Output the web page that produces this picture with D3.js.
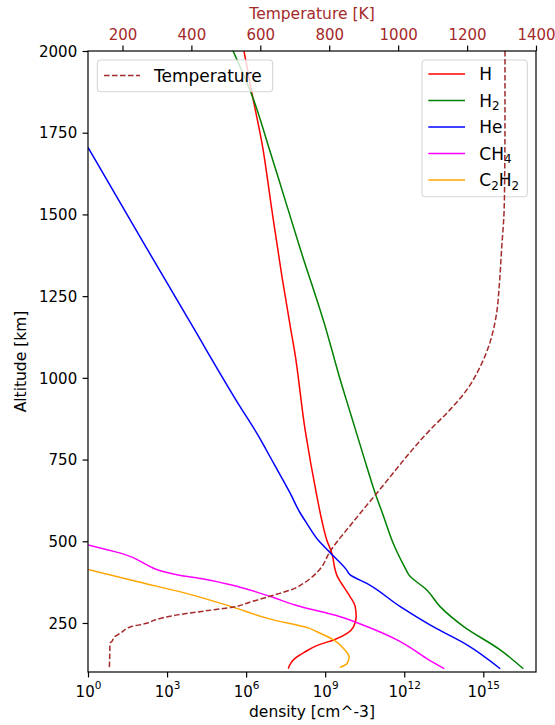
<!DOCTYPE html>
<html>
<head>
<meta charset="utf-8">
<script src="https://cdn.jsdelivr.net/npm/d3@7"></script>
<style>
  body { margin: 0; background: #fff; }
  text { font-family: "DejaVu Sans", sans-serif; }
</style>
</head>
<body>
<svg id="chart" width="555" height="725"></svg>
<script>
// Atmospheric number-density profiles [cm^-3] versus altitude [km]
const altH  = [2000, 1871, 1718, 1513, 1309, 1146, 1085, 840, 636, 565, 504, 463, 412, 397, 361, 330, 300, 269, 239, 218, 198, 183, 160, 140, 120, 110];
const densH = [8.3e5, 1.66e6, 4.0e6, 9.5e6, 2.3e7, 5.0e7, 6.8e7, 1.74e8, 4.9e8, 7.4e8, 1.15e9, 1.8e9, 2.4e9, 2.75e9, 5.0e9, 8.9e9, 1.38e10, 1.5e10, 1.2e10, 6.8e9, 2.1e9, 5.6e8, 1.6e8, 6.8e7, 4.4e7, 4.0e7];

const altH2  = [2000, 1865, 1697, 1615, 1391, 1146, 1085, 1014, 881, 759, 647, 575, 494, 417, 397, 351, 300, 239, 167, 110];
const densH2 = [3.2e5, 1.66e6, 7.8e6, 1.62e7, 1.17e8, 1.1e9, 1.8e9, 3.16e9, 1.0e10, 2.9e10, 7.9e10, 1.66e11, 3.8e11, 1.1e12, 1.5e12, 7.2e12, 2.3e13, 1.8e14, 4.5e15, 3.3e16];

const altHe  = [1705, 1422, 1168, 912, 830, 739, 647, 588, 555, 502, 466, 414, 397, 371, 300, 238, 183, 110];
const densHe = [1, 1.1e2, 7.8e3, 5.9e5, 2.57e6, 1.1e7, 4.7e7, 1.1e8, 2.0e8, 5.6e8, 1.5e9, 6.3e9, 8.9e9, 3.8e10, 7.1e11, 1.29e13, 2.4e14, 4.4e15];

const altCH4  = [489, 463, 397, 384, 361, 330, 305, 269, 239, 193, 141, 110];
const densCH4 = [1, 18.6, 2.63e3, 2.69e4, 5.0e5, 9.1e6, 7.1e7, 3.7e9, 3.8e10, 7.1e11, 7.2e12, 3.3e13];

const altC2H2  = [414, 376, 339, 300, 261, 235, 223, 198, 172, 146, 126, 114];
const densC2H2 = [1, 79, 6.3e3, 2.75e5, 9.1e6, 2.3e8, 4.9e8, 2.1e9, 5.0e9, 8.1e9, 6.8e9, 3.55e9];

// Temperature profile [K]
const altTemp = [2000, 1800, 1600, 1500, 1391, 1290, 1187, 1107, 1034, 963, 902, 840, 647, 560, 468, 412, 371, 356, 336, 315, 298, 287, 274, 259, 249, 239, 218, 208, 193, 188, 150, 110];
const tempK   = [1310, 1310, 1309, 1307, 1300, 1294, 1284, 1266, 1238, 1199, 1150, 1092, 938, 870, 802, 771, 725, 700, 642, 574, 518, 441, 355, 294, 270, 226, 193, 177, 169, 164, 163, 162];

const speciesLabels = ["H", "H_2", "He", "CH_4", "C_2H_2"];
const speciesColors = ["#ff0000", "#008000", "#0000ff", "#ff00ff", "#ffa500"];
const speciesAlt  = [altH, altH2, altHe, altCH4, altC2H2];
const speciesDens = [densH, densH2, densHe, densCH4, densC2H2];

const densityTicks = [1, 1e3, 1e6, 1e9, 1e12, 1e15];
const altitudeTicks = [250, 500, 750, 1000, 1250, 1500, 1750, 2000];
const temperatureTicks = [200, 400, 600, 800, 1000, 1200, 1400];

const tempColor = "#a52a2a";
const tickFont = 15, labelFont = 15.5, legendFont = 17;

const svg = d3.select("#chart");
const L = 88, R = 536, T = 51, B = 672;

const x = d3.scaleLog().domain([1, 1e17]).range([L, R]);
const xT = d3.scaleLinear().domain([100, 1400]).range([L, R]);
const y = d3.scaleLinear().domain([100, 2000]).range([B, T]);

svg.append("defs").append("clipPath").attr("id", "plotArea")
  .append("rect").attr("x", L).attr("y", T).attr("width", R - L).attr("height", B - T);

// draws "H_2" style labels with subscript digits
function richLabel(sel, label, size) {
  const parts = label.split(/(_\d)/).filter(p => p.length);
  let sub = false;
  parts.forEach(p => {
    if (p[0] === "_") {
      sel.append("tspan").attr("dy", size * 0.22).attr("font-size", size * 0.7).text(p.slice(1));
      sub = true;
    } else {
      sel.append("tspan").attr("dy", sub ? -size * 0.22 : 0).text(p);
      sub = false;
    }
  });
}

// species profiles
const plot = svg.append("g").attr("clip-path", "url(#plotArea)");
const line = d3.line().curve(d3.curveMonotoneY).x(d => x(d[1])).y(d => y(d[0]));
speciesLabels.forEach((lab, i) => {
  plot.append("path")
    .datum(d3.zip(speciesAlt[i], speciesDens[i]))
    .attr("d", line)
    .attr("fill", "none")
    .attr("stroke", speciesColors[i])
    .attr("stroke-width", 1.5)
    .attr("stroke-linejoin", "round");
});

// species legend
const lg = svg.append("g");
lg.append("rect").attr("x", 422).attr("y", 60).attr("width", 105.3).attr("height", 136.7)
  .attr("rx", 3.5).attr("fill", "#fff").attr("fill-opacity", 0.8)
  .attr("stroke", "#d6d6d6").attr("stroke-width", 1.1);
speciesLabels.forEach((lab, i) => {
  const cy = 74 + i * 26.5;
  lg.append("line").attr("x1", 428.3).attr("x2", 465).attr("y1", cy).attr("y2", cy)
    .attr("stroke", speciesColors[i]).attr("stroke-width", 1.5);
  const t = lg.append("text").attr("x", 479.3).attr("y", cy + 6.2).attr("font-size", legendFont);
  richLabel(t, lab, legendFont);
});

// temperature profile on the twin axis
const tempLine = d3.line().curve(d3.curveMonotoneY).x(d => xT(d[1])).y(d => y(d[0]));
svg.append("g").attr("clip-path", "url(#plotArea)").append("path")
  .datum(d3.zip(altTemp, tempK))
  .attr("d", tempLine)
  .attr("fill", "none")
  .attr("stroke", tempColor)
  .attr("stroke-width", 1.5)
  .attr("stroke-dasharray", "5.6,2.4");

// temperature legend
const tg = svg.append("g");
tg.append("rect").attr("x", 97.3).attr("y", 60).attr("width", 175.4).attr("height", 31.7)
  .attr("rx", 3.5).attr("fill", "#fff").attr("fill-opacity", 0.8)
  .attr("stroke", "#d6d6d6").attr("stroke-width", 1.1);
tg.append("line").attr("x1", 104).attr("x2", 140).attr("y1", 75.5).attr("y2", 75.5)
  .attr("stroke", tempColor).attr("stroke-width", 1.5).attr("stroke-dasharray", "5.6,2.4");
tg.append("text").attr("x", 154).attr("y", 81.6).attr("font-size", legendFont).text("Temperature");

// axes
const tickLen = 5.4, tickPad = 5.4;

const gBottom = svg.append("g").attr("transform", `translate(0,${B})`)
  .call(d3.axisBottom(x).tickValues(densityTicks).tickSize(tickLen).tickPadding(tickPad).tickFormat(() => ""));
gBottom.selectAll(".tick text").each(function(d) {
  const t = d3.select(this).attr("y", 24.5).attr("dy", null).attr("font-size", tickFont).attr("fill", "#000");
  t.append("tspan").text("10");
  t.append("tspan").attr("dy", -7.5).attr("font-size", tickFont * 0.7).text(Math.round(Math.log10(d)));
});

const gLeft = svg.append("g").attr("transform", `translate(${L},0)`)
  .call(d3.axisLeft(y).tickValues(altitudeTicks).tickSize(tickLen).tickPadding(tickPad).tickFormat(d3.format("d")));
gLeft.selectAll(".tick text").attr("font-size", tickFont).attr("fill", "#000").attr("dy", "0.35em");

const gTop = svg.append("g").attr("transform", `translate(0,${T})`)
  .call(d3.axisTop(xT).tickValues(temperatureTicks).tickSize(tickLen).tickPadding(tickPad).tickFormat(d3.format("d")));
gTop.selectAll(".tick text").attr("font-size", tickFont).attr("fill", tempColor);

[gBottom, gLeft, gTop].forEach(g => {
  g.select(".domain").remove();
  g.selectAll(".tick line").attr("stroke", "#000").attr("stroke-width", 1.2);
  g.attr("font-family", null);
});

// frame
svg.append("rect").attr("x", L).attr("y", T).attr("width", R - L).attr("height", B - T)
  .attr("fill", "none").attr("stroke", "#000").attr("stroke-width", 1.2);

// axis titles
svg.append("text").attr("x", (L + R) / 2).attr("y", 717).attr("text-anchor", "middle")
  .attr("font-size", labelFont).text("density [cm^-3]");
svg.append("text").attr("transform", `translate(26,${(T + B) / 2}) rotate(-90)`).attr("text-anchor", "middle")
  .attr("font-size", labelFont).text("Altitude [km]");
svg.append("text").attr("x", (L + R) / 2).attr("y", 18.5).attr("text-anchor", "middle")
  .attr("font-size", labelFont).attr("fill", tempColor).text("Temperature [K]");
</script>
</body>
</html>
